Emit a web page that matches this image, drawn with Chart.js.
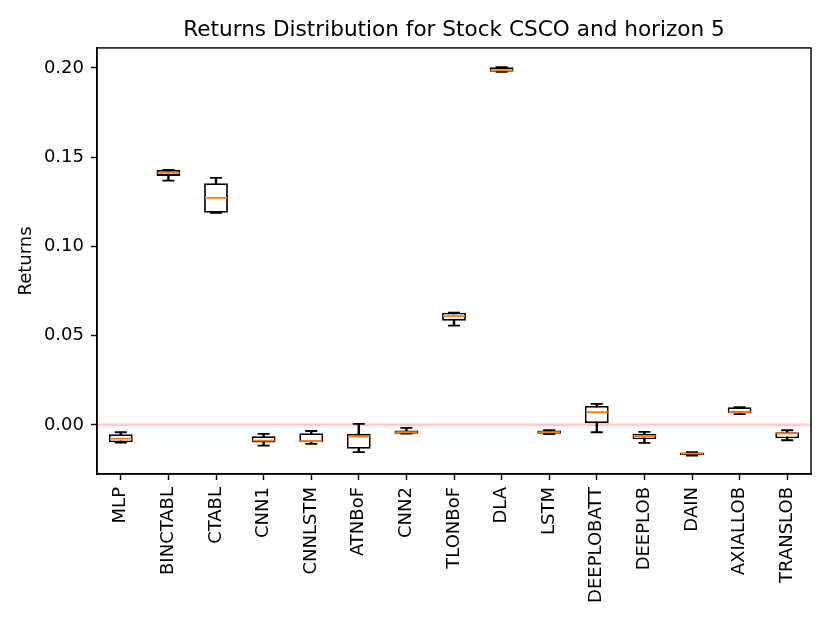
<!DOCTYPE html>
<html>
<head>
<meta charset="utf-8">
<script src="https://cdn.jsdelivr.net/npm/chart.js@4/dist/chart.umd.min.js"></script>
<style>
  html, body { margin: 0; padding: 0; background: #fff; }
  #wrap { width: 830px; height: 623px; }
</style>
</head>
<body>
<div id="wrap"><canvas id="c" width="830" height="623"></canvas></div>
<script>
// models on the x axis
const models = ['MLP','BINCTABL','CTABL','CNN1','CNNLSTM','ATNBoF','CNN2','TLONBoF',
                'DLA','LSTM','DEEPLOBATT','DEEPLOB','DAIN','AXIALLOB','TRANSLOB'];

// box plot stats
const whiskLow  = [-0.0099, 0.1369, 0.1188, -0.0116, -0.0106, -0.0153, -0.0049, 0.0556, 0.1978, -0.0051, -0.0041, -0.0101, -0.0172, 0.0060, -0.0086];
const q1        = [-0.0097, 0.1395, 0.1188, -0.0099, -0.0097, -0.0134, -0.0049, 0.0583, 0.1978, -0.0050,  0.0010, -0.0080, -0.0170, 0.0066, -0.0075];
const medians   = [-0.0077, 0.1412, 0.1272, -0.0088, -0.0090, -0.0065, -0.0041, 0.0609, 0.1987, -0.0041,  0.0071, -0.0062, -0.0161, 0.0071, -0.0047];
const q3        = [-0.0052, 0.1429, 0.1354, -0.0063, -0.0047, -0.0050, -0.0032, 0.0629, 0.2004, -0.0032,  0.0106, -0.0050, -0.0155, 0.0099, -0.0041];
const whiskHigh = [-0.0041, 0.1429, 0.1384, -0.0050, -0.0034,  0.0006, -0.0017, 0.0629, 0.2004, -0.0030,  0.0118, -0.0039, -0.0153, 0.0099, -0.0030];

const yTicks = [0.00, 0.05, 0.10, 0.15, 0.20];

const FONT = 'DejaVu Sans';

function pairs(a, b){
    let out = [];
    for (var i = 0; i < a.length; i++) {
        out.push([a[i], b[i]]);
    }
    return out;
}

// red zero line + frame round the axes
const extras = {
    id: 'extras',
    beforeDatasetsDraw(chart){
        const ctx = chart.ctx, area = chart.chartArea;
        const y0 = chart.scales.y.getPixelForValue(0);
        ctx.save();
        ctx.strokeStyle = 'rgba(255,0,0,0.2)';
        ctx.lineWidth = 2.7;
        ctx.beginPath();
        ctx.moveTo(area.left, y0);
        ctx.lineTo(area.right, y0);
        ctx.stroke();
        ctx.restore();
    },
    afterDraw(chart){
        const ctx = chart.ctx, area = chart.chartArea;
        ctx.save();
        ctx.strokeStyle = '#000';
        ctx.lineWidth = 1.44;
        ctx.strokeRect(area.left, area.top, area.right - area.left, area.bottom - area.top);
        ctx.restore();
    }
};

const data = {
    labels: models,
    datasets: [
        {
            type: 'bar',
            label: 'whiskers',
            data: pairs(whiskLow, whiskHigh),
            backgroundColor: '#000',
            borderWidth: 0,
            barThickness: 1.8,
            grouped: false,
            order: 4
        },
        {
            type: 'bar',
            label: 'box',
            data: pairs(q1, q3),
            backgroundColor: '#fff',
            borderColor: '#000',
            borderWidth: 1.8,
            borderSkipped: false,
            categoryPercentage: 1,
            barPercentage: 0.5,
            grouped: false,
            order: 3
        },
        {
            type: 'line',
            label: 'capHigh',
            data: whiskHigh,
            showLine: false,
            pointStyle: 'line',
            pointRadius: 6,
            borderColor: '#000',
            pointBorderWidth: 1.8,
            order: 2
        },
        {
            type: 'line',
            label: 'capLow',
            data: whiskLow,
            showLine: false,
            pointStyle: 'line',
            pointRadius: 6,
            borderColor: '#000',
            pointBorderWidth: 1.8,
            order: 2
        },
        {
            type: 'line',
            label: 'median',
            data: medians,
            showLine: false,
            pointStyle: 'line',
            pointRadius: 11,
            borderColor: '#ff7f0e',
            pointBorderWidth: 1.8,
            order: 1
        }
    ]
};

const config = {
    type: 'bar',
    data: data,
    plugins: [extras],
    options: {
        responsive: false,
        animation: false,
        layout: { padding: { left: 0, right: 19, top: 0, bottom: 0 } },
        plugins: {
            legend: { display: false },
            tooltip: { enabled: false },
            title: {
                display: true,
                text: 'Returns Distribution for Stock CSCO and horizon 5',
                color: '#000',
                fullSize: false,
                font: { family: FONT, size: 21.6, weight: 'normal' },
                padding: { top: 17, bottom: 5 }
            }
        },
        scales: {
            x: {
                offset: true,
                grid: { display: true, offset: false, drawOnChartArea: false, tickLength: 6, tickColor: '#000', tickWidth: 1.44 },
                border: { color: '#000', width: 1.44 },
                ticks: { color: '#000', font: { family: FONT, size: 18 }, minRotation: 90, maxRotation: 90, padding: 7, autoSkip: false },
                afterFit(scale){ scale.height = 149; }
            },
            y: {
                min: -0.0275,
                max: 0.2112,
                afterBuildTicks(scale){ scale.ticks = yTicks.map(v => ({ value: v })); },
                grid: { display: true, drawOnChartArea: false, tickLength: 6, tickColor: '#000', tickWidth: 1.44 },
                border: { color: '#000', width: 1.44 },
                ticks: { color: '#000', font: { family: FONT, size: 18 }, padding: 7, callback: v => Number(v).toFixed(2) },
                title: { display: true, text: 'Returns', color: '#000', font: { family: FONT, size: 18 }, padding: { top: 16, bottom: 0 } },
                afterFit(scale){ scale.width = 97; }
            }
        }
    }
};

let c = document.getElementById('c').getContext('2d');
new Chart(c, config);
</script>
</body>
</html>
